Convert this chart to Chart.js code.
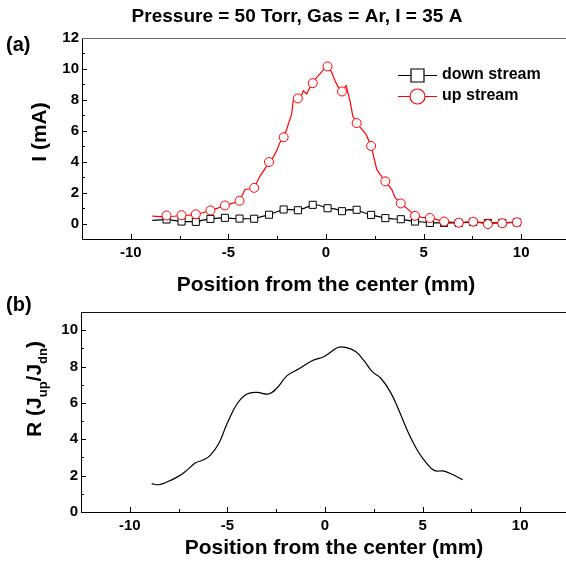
<!DOCTYPE html>
<html><head><meta charset="utf-8">
<script src="https://cdn.jsdelivr.net/npm/chart.js@4.4.1/dist/chart.umd.min.js"></script>
<style>
html,body{margin:0;padding:0;background:#fff;overflow:hidden;width:566px;height:562px;}
#wa{position:absolute;left:0;top:0;width:580px;height:300px;}
#wb{position:absolute;left:0;top:280px;width:580px;height:282px;}
canvas{background:transparent;}
</style></head><body>
<div id="wa"><canvas id="ca" width="580" height="300"></canvas></div>
<div id="wb"><canvas id="cb" width="580" height="282"></canvas></div>
<script>
// ---------- text ----------
const TITLE = 'Pressure = 50 Torr, Gas = Ar, I = 35 A';
const X_TITLE = 'Position from the center (mm)';
const Y_TITLE_A = 'I (mA)';
const LEGEND_LABELS = ['down stream', 'up stream'];

// ---------- ticks ----------
const X_TICKS = [-10, -5, 0, 5, 10];
const X_MINOR = [-7.5, -2.5, 2.5, 7.5];
const Y_TICKS_A = [0, 2, 4, 6, 8, 10, 12];
const Y_MINOR_A = [1, 3, 5, 7, 9, 11];
const Y_TICKS_B = [0, 2, 4, 6, 8, 10];
const Y_MINOR_B = [1, 3, 5, 7, 9];

// ---------- data (a) ----------
const MARK_X = [-8.17, -7.40, -6.67, -5.92, -5.18, -4.43, -3.68, -2.92, -2.17, -1.44, -0.68, 0.08, 0.82, 1.57, 2.31, 3.04, 3.83, 4.56, 5.32, 6.05, 6.80, 7.54, 8.29, 9.03, 9.78];
const UP_MARK_Y = [0.52, 0.54, 0.60, 0.85, 1.17, 1.47, 2.31, 3.98, 5.58, 8.09, 9.08, 10.16, 8.54, 6.50, 5.02, 2.73, 1.30, 0.50, 0.36, 0.13, 0.05, 0.12, -0.04, 0.02, 0.08];
const DOWN_MARK_Y = [0.26, 0.13, 0.11, 0.30, 0.37, 0.32, 0.31, 0.57, 0.91, 0.86, 1.21, 0.99, 0.80, 0.89, 0.56, 0.35, 0.28, 0.13, 0.04, 0.04, 0.04, 0.10, 0.04, 0.04, 0.08];

const UP_LINE_X = [-8.9, -8.5, -8.17, -7.8, -7.4, -7.0, -6.67, -6.3, -5.92, -5.55, -5.18, -4.8, -4.43, -4.15, -3.9, -3.68, -3.38, -3.1, -2.92, -2.7, -2.53, -2.36, -2.19, -2.01, -1.93, -1.76, -1.68, -1.5, -1.44, -1.33, -1.16, -0.99, -0.73, -0.48, -0.31, -0.1, 0.07, 0.29, 0.46, 0.63, 0.81, 1.03, 1.23, 1.37, 1.54, 1.83, 2.05, 2.31, 2.6, 2.77, 3.04, 3.37, 3.54, 3.83, 4.22, 4.56, 4.9, 5.32, 5.7, 6.05, 6.4, 6.8, 7.2, 7.54, 7.9, 8.29, 8.7, 9.03, 9.4, 9.78, 9.9];
const UP_LINE_Y = [0.48, 0.45, 0.45, 0.47, 0.52, 0.55, 0.60, 0.70, 0.86, 1.00, 1.17, 1.30, 1.49, 2.20, 2.25, 2.31, 3.07, 3.60, 3.98, 4.30, 4.70, 5.24, 5.60, 6.10, 6.43, 7.08, 7.94, 8.27, 8.09, 8.05, 8.59, 8.38, 9.03, 9.46, 9.68, 10.00, 10.15, 9.79, 9.24, 8.81, 8.55, 8.92, 7.94, 6.97, 6.54, 6.10, 5.78, 5.02, 3.50, 3.18, 2.73, 2.20, 1.67, 1.30, 0.90, 0.50, 0.40, 0.36, 0.25, 0.13, 0.10, 0.05, 0.10, 0.12, 0.06, -0.03, 0.03, 0.03, 0.07, 0.08, 0.10];

const DOWN_LINE_X = [-8.9, -8.5, -8.17, -7.8, -7.4, -7.0, -6.67, -6.3, -5.92, -5.55, -5.18, -4.8, -4.43, -4.05, -3.68, -3.3, -2.92, -2.55, -2.17, -1.8, -1.44, -1.1, -0.68, -0.4, 0.08, 0.45, 0.82, 1.2, 1.57, 1.95, 2.31, 2.7, 3.04, 3.45, 3.83, 4.2, 4.56, 4.95, 5.32, 5.7, 6.05, 6.45, 6.8, 7.2, 7.54, 7.9, 8.29, 8.65, 9.03, 9.4, 9.78, 9.9];
const DOWN_LINE_Y = [0.21, 0.24, 0.26, 0.20, 0.13, 0.12, 0.11, 0.22, 0.30, 0.35, 0.37, 0.33, 0.32, 0.31, 0.31, 0.45, 0.57, 0.75, 0.91, 0.90, 0.86, 1.00, 1.21, 1.20, 0.99, 0.95, 0.80, 0.90, 0.89, 0.70, 0.56, 0.45, 0.35, 0.30, 0.28, 0.20, 0.13, 0.10, 0.04, 0.05, 0.04, 0.06, 0.04, 0.08, 0.10, 0.07, 0.04, 0.05, 0.04, 0.06, 0.08, 0.08];

// ---------- data (b) ----------
const R_X = [-8.88, -8.53, -8.1, -7.51, -7.08, -6.65, -6.22, -5.88, -5.45, -5.02, -4.51, -4.0, -3.48, -2.89, -2.46, -1.94, -1.35, -0.66, -0.06, 0.28, 0.66, 1.05, 1.57, 2.0, 2.42, 2.85, 3.36, 3.79, 4.22, 4.74, 5.16, 5.59, 6.1, 6.45, 7.05];
const R_Y = [1.56, 1.50, 1.65, 1.96, 2.29, 2.69, 2.87, 3.11, 3.75, 4.85, 5.94, 6.49, 6.58, 6.49, 6.82, 7.50, 7.86, 8.32, 8.54, 8.78, 9.05, 9.05, 8.83, 8.32, 7.72, 7.37, 6.58, 5.58, 4.48, 3.38, 2.74, 2.29, 2.25, 2.10, 1.78];

const pts = (xs, ys) => xs.map((x, i) => ({x: x, y: ys[i]}));
const FONT = '"Liberation Sans", Arial, sans-serif';
const RED = '#ff0000';

function setTicks(values) { return s => { s.ticks = values.map(v => ({value: v})); }; }

function drawTicksAndFrame(chart, cfg) {
  const {ctx, chartArea: a} = chart;
  const xs = chart.scales.x, ys = chart.scales.y;
  ctx.save();
  ctx.strokeStyle = '#000';
  ctx.lineWidth = 1;
  ctx.beginPath();
  const addX = (v, len) => { const p = Math.round(xs.getPixelForValue(v)) + 0.5; ctx.moveTo(p, a.bottom); ctx.lineTo(p, a.bottom - len); };
  const addY = (v, len) => { const p = Math.round(ys.getPixelForValue(v)) + 0.5; ctx.moveTo(a.left, p); ctx.lineTo(a.left + len, p); };
  X_TICKS.forEach(v => addX(v, 5));
  X_MINOR.forEach(v => addX(v, 3));
  cfg.yMajor.forEach(v => addY(v, 5));
  cfg.yMinor.forEach(v => addY(v, 3));
  ctx.stroke();
  ctx.strokeStyle = cfg.frameColor;
  ctx.beginPath();
  const t = Math.round(a.top) + 0.5;
  ctx.moveTo(a.left, t); ctx.lineTo(a.right, t);
  ctx.lineTo(a.right, a.bottom);
  ctx.stroke();
  ctx.restore();
}

const plugA = {
  id: 'decoA',
  afterDraw(chart) {
    drawTicksAndFrame(chart, {yMajor: Y_TICKS_A, yMinor: Y_MINOR_A, frameColor: '#666'});
    const ctx = chart.ctx;
    ctx.save();
    ctx.fillStyle = '#000';
    ctx.textBaseline = 'middle';
    ctx.font = 'bold 19px ' + FONT;
    ctx.textAlign = 'center';
    ctx.fillText(TITLE, 297, 17);
    ctx.font = 'bold 20px ' + FONT;
    ctx.textAlign = 'left';
    ctx.fillText('(a)', 6, 45);
    ctx.font = 'bold 21px ' + FONT;
    ctx.textAlign = 'center';
    ctx.fillText(X_TITLE, 326, 285);
    ctx.save();
    ctx.translate(40, 132);
    ctx.rotate(-Math.PI / 2);
    ctx.fillText(Y_TITLE_A, 0, 0);
    ctx.restore();
    // legend
    const legDs = [chart.data.datasets[2], chart.data.datasets[0]];
    const legY = [75, 96];
    legDs.forEach((ds, i) => {
      const y = legY[i] + 0.5;
      ctx.strokeStyle = ds.borderColor;
      ctx.lineWidth = 1.2;
      ctx.beginPath(); ctx.moveTo(398, y); ctx.lineTo(437, y); ctx.stroke();
      ctx.fillStyle = '#fff';
      ctx.beginPath();
      if (ds.pointStyle === 'rect') ctx.rect(411, y - 6.5, 13, 13);
      else ctx.arc(417.5, y, 7.5, 0, Math.PI * 2);
      ctx.fill(); ctx.stroke();
      ctx.fillStyle = '#000';
      ctx.font = 'bold 16px ' + FONT;
      ctx.textAlign = 'left';
      ctx.textBaseline = 'middle';
      ctx.fillText(LEGEND_LABELS[i], 442, legY[i]);
    });
    ctx.restore();
  }
};

// chart (b) canvas starts at page y = 280 (transparent overlap with chart (a) canvas)
const OFF_B = 280;
const plugB = {
  id: 'decoB',
  afterDraw(chart) {
    drawTicksAndFrame(chart, {yMajor: Y_TICKS_B, yMinor: Y_MINOR_B, frameColor: '#111'});
    const ctx = chart.ctx;
    ctx.save();
    ctx.fillStyle = '#000';
    ctx.textBaseline = 'middle';
    ctx.font = 'bold 20px ' + FONT;
    ctx.textAlign = 'left';
    ctx.fillText('(b)', 6, 305 - OFF_B);
    ctx.font = 'bold 21px ' + FONT;
    ctx.textAlign = 'center';
    ctx.fillText(X_TITLE, 334, 548 - OFF_B);
    // rotated y title with subscripts
    const big = 'bold 21px ' + FONT, small = 'bold 13px ' + FONT;
    const parts = [['R (J', big, 0], ['up', small, 6], ['/J', big, 0], ['dn', small, 6], [')', big, 0]];
    let total = 0;
    parts.forEach(p => { ctx.font = p[1]; p.push(ctx.measureText(p[0]).width); total += p[3]; });
    ctx.translate(33, 389 - OFF_B);
    ctx.rotate(-Math.PI / 2);
    ctx.textAlign = 'left';
    ctx.textBaseline = 'alphabetic';
    let x = -total / 2;
    parts.forEach(p => { ctx.font = p[1]; ctx.fillText(p[0], x, 7.5 + p[2]); x += p[3]; });
    ctx.restore();
  }
};

function xScale() {
  return {
    type: 'linear', min: -12.5, max: 12.5,
    afterBuildTicks: setTicks(X_TICKS),
    ticks: {font: {family: FONT, size: 15, weight: 'bold'}, color: '#000', padding: 5, maxRotation: 0, autoSkip: false},
    grid: {display: false, drawTicks: false},
    border: {display: true, color: '#000', width: 1}
  };
}
function yScale(min, max, ticks) {
  return {
    type: 'linear', min: min, max: max,
    afterBuildTicks: setTicks(ticks),
    ticks: {font: {family: FONT, size: 15, weight: 'bold'}, color: '#000', padding: 3, autoSkip: false},
    grid: {display: false, drawTicks: false},
    border: {display: true, color: '#000', width: 1}
  };
}

// ---------- chart (a) ----------
const xa = xScale(); xa.afterFit = s => { s.height = 61; };
const ya = yScale(-1, 12, Y_TICKS_A); ya.afterFit = s => { s.width = 82; };
new Chart(document.getElementById('ca'), {
  type: 'line',
  data: {
    datasets: [
      {label: 'up stream', data: pts(MARK_X, UP_MARK_Y), showLine: false, pointStyle: 'circle', pointRadius: 4.5, borderColor: RED, pointBorderColor: RED, pointBackgroundColor: '#fff', pointBorderWidth: 1},
      {label: 'up line', data: pts(UP_LINE_X, UP_LINE_Y), borderColor: RED, borderWidth: 1.2, pointRadius: 0, tension: 0},
      {label: 'down stream', data: pts(MARK_X, DOWN_MARK_Y), showLine: false, pointStyle: 'rect', pointRadius: 5, borderColor: '#000', pointBorderColor: '#000', pointBackgroundColor: '#fff', pointBorderWidth: 1},
      {label: 'down line', data: pts(DOWN_LINE_X, DOWN_LINE_Y), borderColor: '#000', borderWidth: 1.2, pointRadius: 0, tension: 0}
    ]
  },
  options: {
    responsive: false, animation: false, devicePixelRatio: 1,
    layout: {padding: {left: 0, top: 38, right: 10, bottom: 0}},
    plugins: {legend: {display: false}, tooltip: {enabled: false}},
    scales: {x: xa, y: ya}
  },
  plugins: [plugA]
});

// ---------- chart (b) ----------
const xb = xScale(); xb.afterFit = s => { s.height = 50; };
const yb = yScale(0, 11, Y_TICKS_B); yb.afterFit = s => { s.width = 81; };
new Chart(document.getElementById('cb'), {
  type: 'line',
  data: {
    datasets: [
      {label: 'R', data: pts(R_X, R_Y), borderColor: '#000', borderWidth: 1.2, pointRadius: 0, tension: 0.4}
    ]
  },
  options: {
    responsive: false, animation: false, devicePixelRatio: 1,
    layout: {padding: {left: 0, top: 32, right: 11, bottom: 0}},
    plugins: {legend: {display: false}, tooltip: {enabled: false}},
    scales: {x: xb, y: yb}
  },
  plugins: [plugB]
});
</script>
</body></html>
